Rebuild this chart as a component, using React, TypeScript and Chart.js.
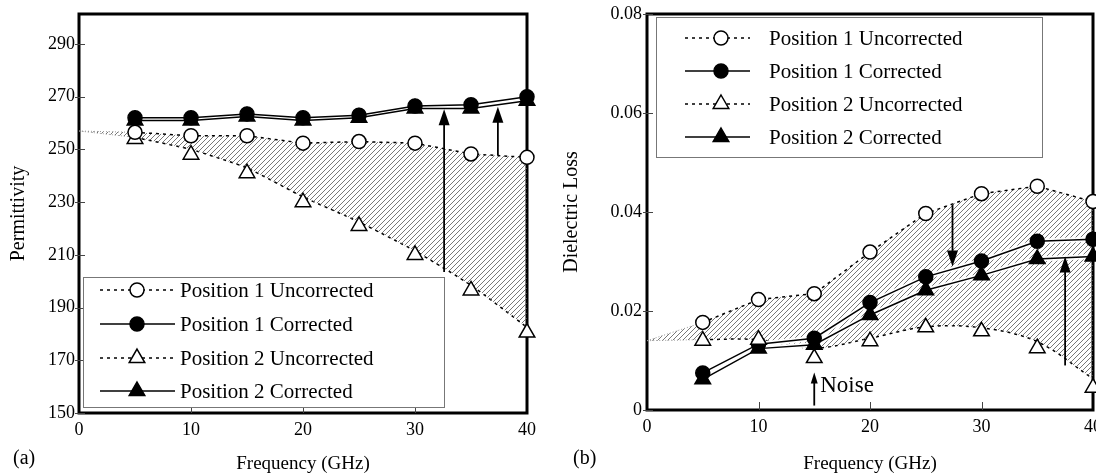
import React, { useEffect, useRef } from 'react';
import { Chart, registerables } from 'chart.js';

Chart.register(...registerables);

// ---------- data ----------
const frequencies = [5, 10, 15, 20, 25, 30, 35, 40];
const hatchFrequencies = [0, 5, 10, 15, 20, 25, 30, 35, 40];
const xTickValues = [0, 10, 20, 30, 40];
const seriesLabels = ['Position 1 Uncorrected', 'Position 1 Corrected', 'Position 2 Uncorrected', 'Position 2 Corrected'];

// (a) Permittivity
const permP1Uncorrected = [256.5, 255.2, 255.2, 252.4, 253, 252.4, 248.3, 247];
const permP1Corrected = [262, 262, 263.5, 262, 263, 266.5, 267, 270];
const permP2Uncorrected = [254, 248, 241, 230, 221, 210, 196.5, 180.5];
const permP2Corrected = [261, 261, 262.5, 261, 262, 265.5, 265.5, 268.5];
const permHatchUpper = [257, 256.5, 255.2, 255.2, 252.4, 253, 252.4, 248.3, 247];
const permHatchLower = [257, 254.5, 250, 243, 232, 222.5, 211.5, 198.5, 182.5];
const permArrows = [
  { x: 32.6, from: 203.5, to: 265.3 },
  { x: 37.4, from: 247.8, to: 266.2 },
];
const permTicks = [150, 170, 190, 210, 230, 250, 270, 290];

// (b) Dielectric loss
const lossP1Uncorrected = [0.0177, 0.0223, 0.0235, 0.0319, 0.0397, 0.0437, 0.0452, 0.0421];
const lossP1Corrected = [0.0075, 0.0133, 0.0145, 0.0217, 0.0269, 0.0301, 0.0341, 0.0345];
const lossP2Uncorrected = [0.014, 0.0142, 0.0105, 0.0139, 0.0167, 0.0159, 0.0125, 0.0045];
const lossP2Corrected = [0.0062, 0.0124, 0.0132, 0.0192, 0.0242, 0.0272, 0.0305, 0.031];
const lossHatchUpper = [0.014, 0.0177, 0.0223, 0.0235, 0.0319, 0.0397, 0.0437, 0.0452, 0.0421];
const lossHatchLower = [0.014, 0.0142, 0.0142, 0.0125, 0.0145, 0.0168, 0.0166, 0.0138, 0.0063];
const lossArrows = [
  { x: 27.4, from: 0.0415, to: 0.029 },
  { x: 37.5, from: 0.009, to: 0.031 },
];
const lossTicks = [0, 0.02, 0.04, 0.06, 0.08];
const noiseMark = { x: 15, from: 0.0009, to: 0.0076, textY: 0.0048, label: 'Noise' };

// ---------- helpers ----------
const FONT = "'Liberation Serif', 'Times New Roman', serif";
const DASH = [3, 4];

function makeHatch(ctx: CanvasRenderingContext2D) {
  const c = document.createElement('canvas');
  c.width = 5;
  c.height = 5;
  const g = c.getContext('2d')!;
  g.strokeStyle = '#555';
  g.lineWidth = 0.8;
  g.beginPath();
  g.moveTo(0, 5);
  g.lineTo(5, 0);
  g.moveTo(-1, 1);
  g.lineTo(1, -1);
  g.moveTo(4, 6);
  g.lineTo(6, 4);
  g.stroke();
  return ctx.createPattern(c, 'repeat');
}

function drawMarker(ctx: CanvasRenderingContext2D, style: string, filled: boolean, x: number, y: number, r: number) {
  ctx.save();
  ctx.setLineDash([]);
  ctx.beginPath();
  if (style === 'circle') {
    ctx.arc(x, y, r, 0, Math.PI * 2);
  } else {
    ctx.moveTo(x, y - r);
    ctx.lineTo(x + r * 0.866, y + r / 2);
    ctx.lineTo(x - r * 0.866, y + r / 2);
    ctx.closePath();
  }
  ctx.fillStyle = filled ? '#000' : '#fff';
  ctx.fill();
  ctx.lineWidth = 1.5;
  ctx.strokeStyle = '#000';
  ctx.stroke();
  ctx.restore();
}

const pts = (xs: number[], ys: number[]) => xs.map((x, i) => ({ x, y: ys[i] }));

const CIRCLE_R = 7;
const TRI_R = 9;

function buildConfig(p: any, canvas: HTMLCanvasElement) {
  const ctx = canvas.getContext('2d')!;
  const pattern = makeHatch(ctx);
  const legendItems = [
    { label: seriesLabels[0], style: 'circle', filled: false, dashed: true },
    { label: seriesLabels[1], style: 'circle', filled: true, dashed: false },
    { label: seriesLabels[2], style: 'triangle', filled: false, dashed: true },
    { label: seriesLabels[3], style: 'triangle', filled: true, dashed: false },
  ];
  const firstSeg = {
    borderColor: (c: any) => (c.p0DataIndex === 0 ? '#999' : undefined),
    borderDash: (c: any) => (c.p0DataIndex === 0 ? [1, 2] : undefined),
    borderWidth: (c: any) => (c.p0DataIndex === 0 ? 1 : undefined),
  };

  const decor = {
    id: 'decor_' + p.id,
    beforeDatasetsDraw(chart: any) {
      const { ctx: c, chartArea: a, scales } = chart;
      c.save();
      c.strokeStyle = '#000';
      c.lineWidth = 3;
      c.strokeRect(a.left, a.top, a.right - a.left, a.bottom - a.top);
      c.lineWidth = 1;
      c.strokeStyle = '#444';
      c.beginPath();
      p.yTicks.forEach((v: number) => {
        const y = Math.round(scales.y.getPixelForValue(v)) + 0.5;
        c.moveTo(a.left - 4, y);
        c.lineTo(a.left + 6, y);
      });
      xTickValues.slice(1, -1).forEach((v) => {
        const x = Math.round(scales.x.getPixelForValue(v)) + 0.5;
        c.moveTo(x, a.bottom);
        c.lineTo(x, a.bottom - 8);
      });
      c.stroke();
      c.restore();
    },
    afterDatasetsDraw(chart: any) {
      const { ctx: c, scales } = chart;
      const arrow = (xv: number, from: number, to: number, head: number, half: number) => {
        const x = scales.x.getPixelForValue(xv);
        const y1 = scales.y.getPixelForValue(from);
        const y2 = scales.y.getPixelForValue(to);
        const dir = y2 < y1 ? 1 : -1;
        c.save();
        c.strokeStyle = '#000';
        c.fillStyle = '#000';
        c.lineWidth = 1.8;
        c.setLineDash([]);
        c.beginPath();
        c.moveTo(x, y1);
        c.lineTo(x, y2 + dir * head * 0.8);
        c.stroke();
        c.beginPath();
        c.moveTo(x, y2);
        c.lineTo(x - half, y2 + dir * head);
        c.lineTo(x + half, y2 + dir * head);
        c.closePath();
        c.fill();
        c.restore();
      };
      p.arrows.forEach((ar: any) => arrow(ar.x, ar.from, ar.to, 16, 5.5));
      if (p.noise) {
        const n = p.noise;
        arrow(n.x, n.from, n.to, 11, 3.5);
        const x = scales.x.getPixelForValue(n.x);
        c.save();
        c.fillStyle = '#000';
        c.font = `23px ${FONT}`;
        c.textAlign = 'left';
        c.textBaseline = 'middle';
        c.fillText(n.label, x + 6, scales.y.getPixelForValue(n.textY));
        c.restore();
      }
    },
    afterDraw(chart: any) {
      const c = chart.ctx;
      const L = p.legend;
      c.save();
      c.fillStyle = '#fff';
      c.fillRect(L.x, L.y, L.w, L.h);
      c.strokeStyle = '#777';
      c.lineWidth = 1;
      c.strokeRect(L.x + 0.5, L.y + 0.5, L.w, L.h);
      legendItems.forEach((it, i) => {
        const y = L.rows[i];
        c.strokeStyle = '#000';
        c.lineWidth = 1.5;
        c.setLineDash(it.dashed ? DASH : []);
        c.beginPath();
        c.moveTo(L.x1, y);
        c.lineTo(L.x2, y);
        c.stroke();
        c.setLineDash([]);
        drawMarker(c, it.style, it.filled, L.mx, y, it.style === 'circle' ? CIRCLE_R : TRI_R);
        c.fillStyle = '#000';
        c.font = `21px ${FONT}`;
        c.textAlign = 'left';
        c.textBaseline = 'middle';
        c.fillText(it.label, L.tx, y + 1);
      });
      c.font = `20px ${FONT}`;
      c.fillText(p.panelLabel, p.panelLabelX, 459);
      c.restore();
    },
  };

  const halo = (ys: number[]) => ({
    data: pts(frequencies, ys),
    borderColor: '#fff',
    borderWidth: 5,
    pointRadius: 0,
    fill: false,
    order: 8,
    clip: false,
  });

  return {
    type: 'line',
    data: {
      datasets: [
        {
          data: pts(hatchFrequencies, p.hatchUpper),
          borderColor: '#000',
          borderWidth: 1.5,
          borderDash: DASH,
          pointRadius: 0,
          fill: '+1',
          backgroundColor: pattern,
          tension: 0,
          segment: firstSeg,
          order: 10,
        },
        {
          data: pts(hatchFrequencies, p.hatchLower),
          borderColor: '#000',
          borderWidth: 1.5,
          borderDash: DASH,
          pointRadius: 0,
          fill: false,
          tension: p.lowerTension,
          segment: firstSeg,
          order: 10,
        },
        halo(p.p1c),
        halo(p.p2c),
        {
          label: seriesLabels[1],
          data: pts(frequencies, p.p1c),
          borderColor: '#000',
          borderWidth: 1.5,
          pointStyle: 'circle',
          pointRadius: CIRCLE_R,
          pointBackgroundColor: '#000',
          pointBorderColor: '#000',
          fill: false,
          order: 4,
          clip: false,
        },
        {
          label: seriesLabels[3],
          data: pts(frequencies, p.p2c),
          borderColor: '#000',
          borderWidth: 1.5,
          pointStyle: 'triangle',
          pointRadius: TRI_R,
          pointBackgroundColor: '#000',
          pointBorderColor: '#000',
          fill: false,
          order: 5,
          clip: false,
        },
        {
          label: seriesLabels[0],
          data: pts(frequencies, p.p1u),
          showLine: false,
          pointStyle: 'circle',
          pointRadius: CIRCLE_R,
          pointBorderWidth: 1.5,
          pointBackgroundColor: '#fff',
          pointBorderColor: '#000',
          order: 1,
          clip: false,
        },
        {
          label: seriesLabels[2],
          data: pts(frequencies, p.p2u),
          showLine: false,
          pointStyle: 'triangle',
          pointRadius: TRI_R,
          pointBorderWidth: 1.5,
          pointBackgroundColor: '#fff',
          pointBorderColor: '#000',
          order: 1,
          clip: false,
        },
      ],
    },
    options: {
      responsive: false,
      animation: false,
      devicePixelRatio: 1,
      events: [],
      layout: {
        padding: { left: 0, top: p.area.top, right: p.canvasW - p.area.right, bottom: 0 },
      },
      plugins: { legend: { display: false }, tooltip: { enabled: false } },
      scales: {
        x: {
          type: 'linear',
          min: 0,
          max: 40,
          afterBuildTicks: (s: any) => {
            s.ticks = xTickValues.map((v) => ({ value: v }));
          },
          afterFit: (s: any) => {
            s.height = 475 - p.area.bottom;
          },
          grid: { display: false, drawTicks: false },
          border: { display: false },
          ticks: { color: '#000', font: { family: FONT, size: 18 }, padding: 6, maxRotation: 0, autoSkip: false },
          title: {
            display: true,
            text: 'Frequency (GHz)',
            color: '#000',
            font: { family: FONT, size: 19 },
            padding: { top: 0, bottom: 0 },
          },
        },
        y: {
          type: 'linear',
          min: p.yMin,
          max: p.yMax,
          afterBuildTicks: (s: any) => {
            s.ticks = p.yTicks.map((v: number) => ({ value: v }));
          },
          afterFit: (s: any) => {
            s.width = p.area.left;
          },
          grid: { display: false, drawTicks: false },
          border: { display: false },
          ticks: {
            color: '#000',
            font: { family: FONT, size: 18, lineHeight: 1 },
            padding: p.yTickPad,
            callback: p.yFmt,
          },
          title: {
            display: true,
            text: p.yTitle,
            color: '#000',
            font: { family: FONT, size: 20 },
            padding: { top: p.yTitlePad, bottom: 0 },
          },
        },
      },
    },
    plugins: [decor],
  } as any;
}

const panelA = {
  id: 'a',
  p1u: permP1Uncorrected,
  p1c: permP1Corrected,
  p2u: permP2Uncorrected,
  p2c: permP2Corrected,
  hatchUpper: permHatchUpper,
  hatchLower: permHatchLower,
  lowerTension: 0.15,
  arrows: permArrows,
  noise: null,
  yMin: 150,
  yMax: 301.4,
  yTicks: permTicks,
  yFmt: (v: number) => String(v),
  yTitle: 'Permittivity',
  yTitlePad: 7,
  yTickPad: 4,
  canvasW: 548,
  area: { left: 79, right: 527, top: 14, bottom: 413 },
  legend: { x: 83, y: 277, w: 361, h: 130, rows: [290, 324, 358, 391], x1: 100, x2: 175, mx: 137, tx: 180 },
  panelLabel: '(a)',
  panelLabelX: 13,
};

const panelB = {
  id: 'b',
  p1u: lossP1Uncorrected,
  p1c: lossP1Corrected,
  p2u: lossP2Uncorrected,
  p2c: lossP2Corrected,
  hatchUpper: lossHatchUpper,
  hatchLower: lossHatchLower,
  lowerTension: 0.35,
  arrows: lossArrows,
  noise: noiseMark,
  yMin: 0,
  yMax: 0.08,
  yTicks: lossTicks,
  yFmt: (v: number) => (v === 0 ? '0' : v.toFixed(2)),
  yTitle: 'Dielectric Loss',
  yTitlePad: 12,
  yTickPad: 5,
  canvasW: 560,
  area: { left: 99, right: 546, top: 10, bottom: 410 },
  legend: { x: 108, y: 17, w: 386, h: 140, rows: [38, 71, 104, 137], x1: 137, x2: 202, mx: 173, tx: 221 },
  panelLabel: '(b)',
  panelLabelX: 25,
};

export default function App() {
  const leftRef = useRef<HTMLCanvasElement>(null);
  const rightRef = useRef<HTMLCanvasElement>(null);
  useEffect(() => {
    const a = new Chart(leftRef.current!, buildConfig(panelA, leftRef.current!));
    const b = new Chart(rightRef.current!, buildConfig(panelB, rightRef.current!));
    return () => {
      a.destroy();
      b.destroy();
    };
  }, []);
  return (
    <div
      style={{
        position: 'absolute',
        left: 0,
        top: 0,
        width: 1096,
        height: 475,
        overflow: 'hidden',
        background: '#fff',
      }}
    >
      <canvas
        ref={leftRef}
        width={548}
        height={475}
        style={{ position: 'absolute', left: 0, top: 0, width: 548, height: 475 }}
      />
      <canvas
        ref={rightRef}
        width={560}
        height={475}
        style={{ position: 'absolute', left: 548, top: 0, width: 560, height: 475 }}
      />
    </div>
  );
}
